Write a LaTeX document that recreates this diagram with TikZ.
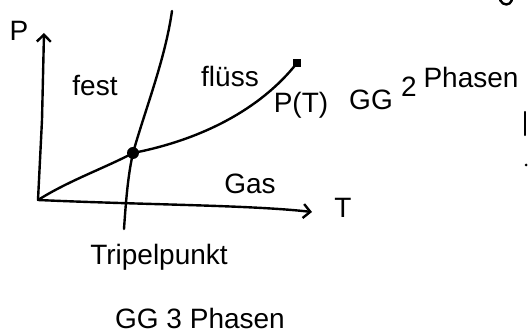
\documentclass[tikz,border=0pt]{standalone}
\usepackage{fontspec}
\setmainfont{Liberation Sans}
\usetikzlibrary{arrows.meta,calc}

\begin{document}
\begin{tikzpicture}[x=1pt,y=-1pt,line width=2.4pt,line cap=round,line join=round,
  hand/.style={font=\fontsize{28}{30}\selectfont,inner sep=0pt},
  axis/.style={-{Straight Barb[length=7pt,width=14pt,line width=2.4pt]}}]
  \useasboundingbox (0,0) rectangle (528,336);
  % points of the diagram
  \coordinate (O) at (38,200);
  \coordinate (tp) at (133,153);
  \coordinate (kp) at (297,63);
  \coordinate (pend) at (44,33);
  \coordinate (tend) at (312,212);
  \coordinate (mlow) at (124,229);
  \coordinate (mtop) at (172,11);
  % axes
  \draw[axis] (O) -- (42,120) -- (pend);
  \draw[axis] (O) .. controls (150,205) and (250,205) .. (tend);
  % phase boundaries
  \draw (O) .. controls (70,180) and (105,168) .. (tp);
  \draw (tp) .. controls (200,140) and (260,110) .. (kp);
  \draw (mlow) .. controls (126,200) and (128,175) .. (tp)
        .. controls (145,110) and (165,60) .. (mtop);
  \fill (tp) circle (6pt);
  \fill ($(kp)+(-4,-4)$) rectangle ($(kp)+(4,4)$);
  % labels
  \node[hand] (p) at (19,31) {P};
  \node[hand] (t) at (343,208) {T};
  \node[hand] (fest) at (95,86) {fest};
  \node[hand] (fl) at (230,76) {flüss};
  \node[hand] (gas) at (250,184) {Gas};
  \node[hand] (pt) at (301,105) {P(T)};
  \node[hand] (gg2) at (371,100) {GG};
  \node[hand] (two) at (409,87) {2};
  \node[hand] (ph2) at (471,77) {Phasen};
  \node[hand] (tpl) at (159,257) {Tripelpunkt};
  \node[hand] (gg3) at (200,318) {GG 3 Phasen};
  % cut-off strokes at the right edge
  \draw (500,0) .. controls (503,6) and (510,6) .. (512,0);
  \draw (525,112) -- (525,135);
  \fill (526,165) circle (1.5pt);
\end{tikzpicture}
\end{document}
